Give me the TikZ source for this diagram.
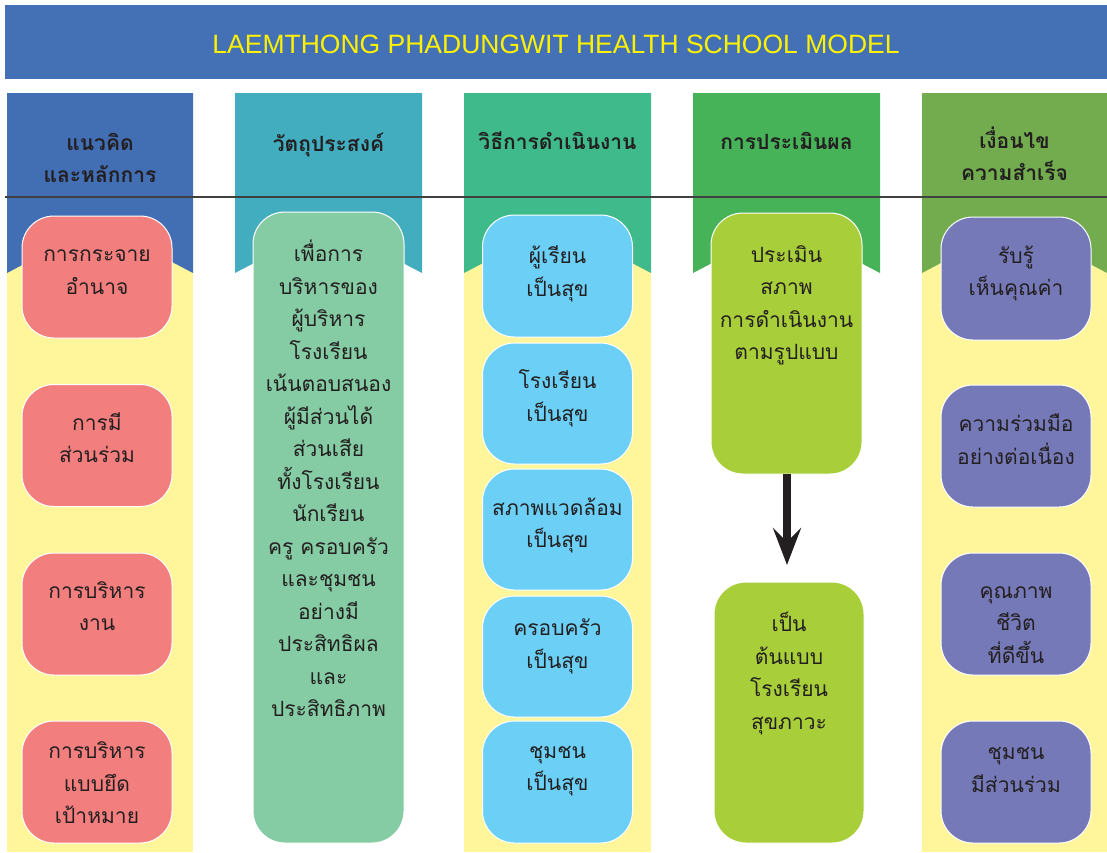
\documentclass[tikz,border=0pt]{standalone}
\usepackage{fontspec}
\setmainfont{Liberation Sans}
\newfontfamily\thaifont[Script=Thai]{Loma}
\usetikzlibrary{arrows.meta}
\definecolor{titleblue}{HTML}{4470B6}
\definecolor{titleyellow}{HTML}{FFF200}
\definecolor{hA}{HTML}{426EB4}
\definecolor{hB}{HTML}{42ADBF}
\definecolor{hC}{HTML}{3FBB8B}
\definecolor{hD}{HTML}{47B359}
\definecolor{hE}{HTML}{72AC4F}
\definecolor{bgyellow}{HTML}{FFF59B}
\definecolor{pinkbox}{HTML}{F37E7E}
\definecolor{mintbox}{HTML}{85CBA3}
\definecolor{skybox}{HTML}{6BCFF6}
\definecolor{limebox}{HTML}{A8CE3A}
\definecolor{violetbox}{HTML}{7579B8}
\definecolor{ink}{HTML}{231F20}
\tikzset{
  card/.style={draw=white, line width=1pt, rounded corners=32pt, minimum width=150pt, inner sep=0pt},
  bodytext/.style={align=center, text=ink, inner sep=0pt, font=\thaifont\fontsize{21pt}{32.5pt}\selectfont},
  headtext/.style={align=center, text=ink, inner sep=0pt, font=\thaifont\bfseries\fontsize{21pt}{32pt}\selectfont},
}
\begin{document}
\begin{tikzpicture}[x=1pt,y=-1pt]
\useasboundingbox (0,0) rectangle (1107,852);
% title
\fill[titleblue] (5,5) rectangle (1107,79);
\node[text=titleyellow, inner sep=0pt, font=\fontsize{26.5pt}{30pt}\selectfont] (title) at (556,44) {LAEMTHONG PHADUNGWIT HEALTH SCHOOL MODEL};
% yellow backgrounds
\fill[bgyellow] (7,93) rectangle (193,852);
\fill[bgyellow] (464,93) rectangle (651,852);
\fill[bgyellow] (922,93) rectangle (1107,852);
% header banners
\foreach \xa/\xb/\c in {7/193/hA, 235/422/hB, 464/651/hC, 693/880/hD, 922/1107/hE}{
  \fill[\c] (\xa,93) -- (\xb,93) -- (\xb,273) -- ({(\xa+\xb)/2},224) -- (\xa,273) -- cycle;
}
\node[headtext] (hdA) at (100,158) {แนวคิด\\และหลักการ};
\node[headtext] (hdB) at (328.5,145) {วัตถุประสงค์};
\node[headtext] (hdC) at (557.5,141) {วิธีการดำเนินงาน};
\node[headtext] (hdD) at (786.5,141) {การประเมินผล};
\node[headtext] (hdE) at (1014.5,154) {เงื่อนไข\\ความสำเร็จ};
% divider line
\draw[line width=1.3pt, draw=black!75] (5,197) -- (1107,197);
% column 1
\node[card, fill=pinkbox, minimum height=122pt] (a1) at (97,277) {};
\node[bodytext] (a1t) at ([yshift=5pt]a1.center) {การกระจาย\\อำนาจ};
\node[card, fill=pinkbox, minimum height=122pt] (a2) at (97,445.5) {};
\node[bodytext] (a2t) at ([yshift=8pt]a2.center) {การมี\\ส่วนร่วม};
\node[card, fill=pinkbox, minimum height=122pt] (a3) at (97,614) {};
\node[bodytext] (a3t) at ([yshift=8pt]a3.center) {การบริหาร\\งาน};
\node[card, fill=pinkbox, minimum height=122pt] (a4) at (97,782) {};
\node[bodytext] (a4t) at ([yshift=-1pt]a4.center) {การบริหาร\\แบบยึด\\เป้าหมาย};
% column 2
\node[card, fill=mintbox, minimum height=631pt, minimum width=151pt] (b1) at (328.5,527.5) {};
\node[bodytext, anchor=north] (b1t) at (328.5,240) {เพื่อการ\\บริหารของ\\ผู้บริหาร\\โรงเรียน\\เน้นตอบสนอง\\ผู้มีส่วนได้\\ส่วนเสีย\\ทั้งโรงเรียน\\นักเรียน\\ครู ครอบครัว\\และชุมชน\\อย่างมี\\ประสิทธิผล\\และ\\ประสิทธิภาพ};
% column 3
\node[card, fill=skybox, minimum height=122pt] (c1) at (557.5,276) {};
\node[bodytext] (c1t) at ([yshift=2pt]c1.center) {ผู้เรียน\\เป็นสุข};
\node[card, fill=skybox, minimum height=121pt] (c2) at (557.5,403.5) {};
\node[bodytext] (c2t) at ([yshift=5pt]c2.center) {โรงเรียน\\เป็นสุข};
\node[card, fill=skybox, minimum height=121pt] (c3) at (557.5,529.5) {};
\node[bodytext] (c3t) at ([yshift=4pt]c3.center) {สภาพแวดล้อม\\เป็นสุข};
\node[card, fill=skybox, minimum height=121pt] (c4) at (557.5,656.5) {};
\node[bodytext] (c4t) at ([yshift=10pt]c4.center) {ครอบครัว\\เป็นสุข};
\node[card, fill=skybox, minimum height=122pt] (c5) at (557.5,782) {};
\node[bodytext] (c5t) at ([yshift=11pt]c5.center) {ชุมชน\\เป็นสุข};
% column 4
\node[card, fill=limebox, minimum height=261pt, minimum width=151pt] (d1) at (786.5,343.5) {};
\node[bodytext, anchor=north] (d1t) at (786.5,245) {ประเมิน\\สภาพ\\การดำเนินงาน\\ตามรูปแบบ};
\node[card, fill=limebox, minimum height=261pt] (d2) at (789,712.5) {};
\node[bodytext, anchor=north] (d2t) at (789,612) {เป็น\\ต้นแบบ\\โรงเรียน\\สุขภาวะ};
\coordinate (arrtop) at (787,474);
\coordinate (arrend) at (787,582);
\draw[line width=8pt, draw=ink, -{Stealth[length=37pt, width=28pt, inset=14pt]}, shorten >=17pt] (arrtop) -- (arrend);
% column 5
\node[card, fill=violetbox, minimum height=123pt] (e1) at (1016,278.5) {};
\node[bodytext] (e1t) at ([yshift=5pt]e1.center) {รับรู้\\เห็นคุณค่า};
\node[card, fill=violetbox, minimum height=122pt] (e2) at (1016,446) {};
\node[bodytext] (e2t) at ([yshift=7pt]e2.center) {ความร่วมมือ\\อย่างต่อเนื่อง};
\node[card, fill=violetbox, minimum height=122pt] (e3) at (1016,614) {};
\node[bodytext] (e3t) at ([yshift=-11pt]e3.center) {คุณภาพ\\ชีวิต\\ที่ดีขึ้น};
\node[card, fill=violetbox, minimum height=122pt] (e4) at (1016,782) {};
\node[bodytext] (e4t) at ([yshift=12pt]e4.center) {ชุมชน\\มีส่วนร่วม};
\end{tikzpicture}
\end{document}
